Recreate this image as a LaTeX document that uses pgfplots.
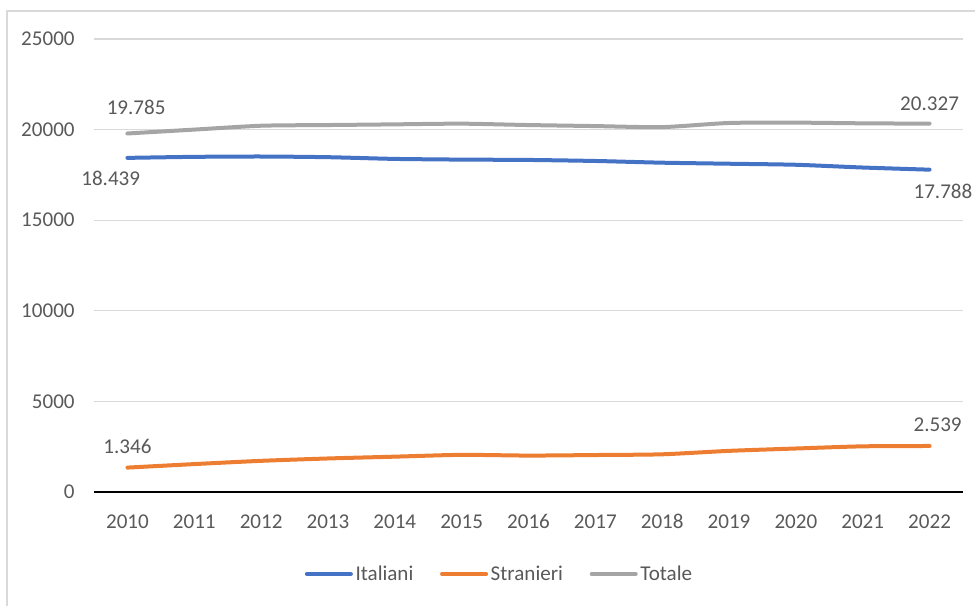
\documentclass[border=0pt]{standalone}
\usepackage{pgfplots}
\pgfplotsset{compat=1.18}
\usepackage{fontspec}
\setmainfont{Carlito}
\definecolor{cIta}{HTML}{4472C4}
\definecolor{cStr}{HTML}{ED7D31}
\definecolor{cTot}{HTML}{A5A5A5}
\definecolor{txt}{HTML}{595959}
\definecolor{gridc}{HTML}{D9D9D9}
\begin{document}
\begin{tikzpicture}
\path[use as bounding box] (0,0) rectangle (731.25pt,454.5pt);
\draw[gridc, line width=1pt] (5.25pt,0) -- (5.25pt,446.25pt) -- (731.25pt,446.25pt);
\begin{axis}[
  at={(70.5pt,85.5pt)}, anchor=south west,
  scale only axis, width=651.75pt, height=339.75pt,
  xmin=-0.5, xmax=12.5, ymin=0, ymax=25000,
  axis line style={draw=none},
  ytick={0,5000,10000,15000,20000,25000},
  scaled y ticks=false,
  xtick={0,...,12},
  xticklabels={2010,2011,2012,2013,2014,2015,2016,2017,2018,2019,2020,2021,2022},
  ymajorgrids, grid style={gridc, line width=0.9pt},
  major tick length=0pt,
  /pgf/number format/1000 sep={},
  /pgf/number format/assume math mode=true,
  tick label style={font=\fontsize{15.8}{18}\selectfont, text=txt},
  yticklabel style={xshift=-11pt},
  xticklabel style={anchor=north, text height=11pt, text depth=0pt, yshift=-13pt},
  legend columns=3,
  legend style={at={(0.467,-0.181)}, anchor=center, draw=none, fill=none,
    font=\fontsize{15.8}{18}\selectfont, text=txt,
    /tikz/every even column/.append style={column sep=18pt}},
  legend image code/.code={\draw[#1, line width=3pt, line cap=round] (0pt,0pt) -- (33pt,0pt);},
  clip=false,
]
\draw[black, line width=1.3pt] (axis cs:-0.5,0) -- (axis cs:12.5,0);
\addplot[cIta, line width=3pt, line cap=round, smooth, tension=0.4] coordinates {
(0,18439) (1,18496) (2,18515) (3,18477) (4,18382) (5,18344) (6,18325) (7,18268) (8,18173) (9,18116) (10,18059) (11,17907) (12,17788)};
\addlegendentry{Italiani}
\addplot[cStr, line width=3pt, line cap=round, smooth, tension=0.4] coordinates {
(0,1346) (1,1540) (2,1720) (3,1850) (4,1950) (5,2050) (6,2010) (7,2040) (8,2080) (9,2270) (10,2400) (11,2520) (12,2539)};
\addlegendentry{Stranieri}
\addplot[cTot, line width=3pt, line cap=round, smooth, tension=0.4] coordinates {
(0,19785) (1,20000) (2,20213) (3,20251) (4,20289) (5,20327) (6,20251) (7,20194) (8,20137) (9,20365) (10,20384) (11,20346) (12,20327)};
\addlegendentry{Totale}
\begin{scope}[every node/.style={font=\fontsize{15.8}{18}\selectfont, text=txt}]
\node at (axis cs:0.13,21200) {19.785};
\node at (axis cs:-0.25,17300) {18.439};
\node at (axis cs:12,21400) {20.327};
\node at (axis cs:12.2,16600) {17.788};
\node at (axis cs:0,2500) {1.346};
\node at (axis cs:12.12,3700) {2.539};
\end{scope}
\end{axis}
\end{tikzpicture}
\end{document}
